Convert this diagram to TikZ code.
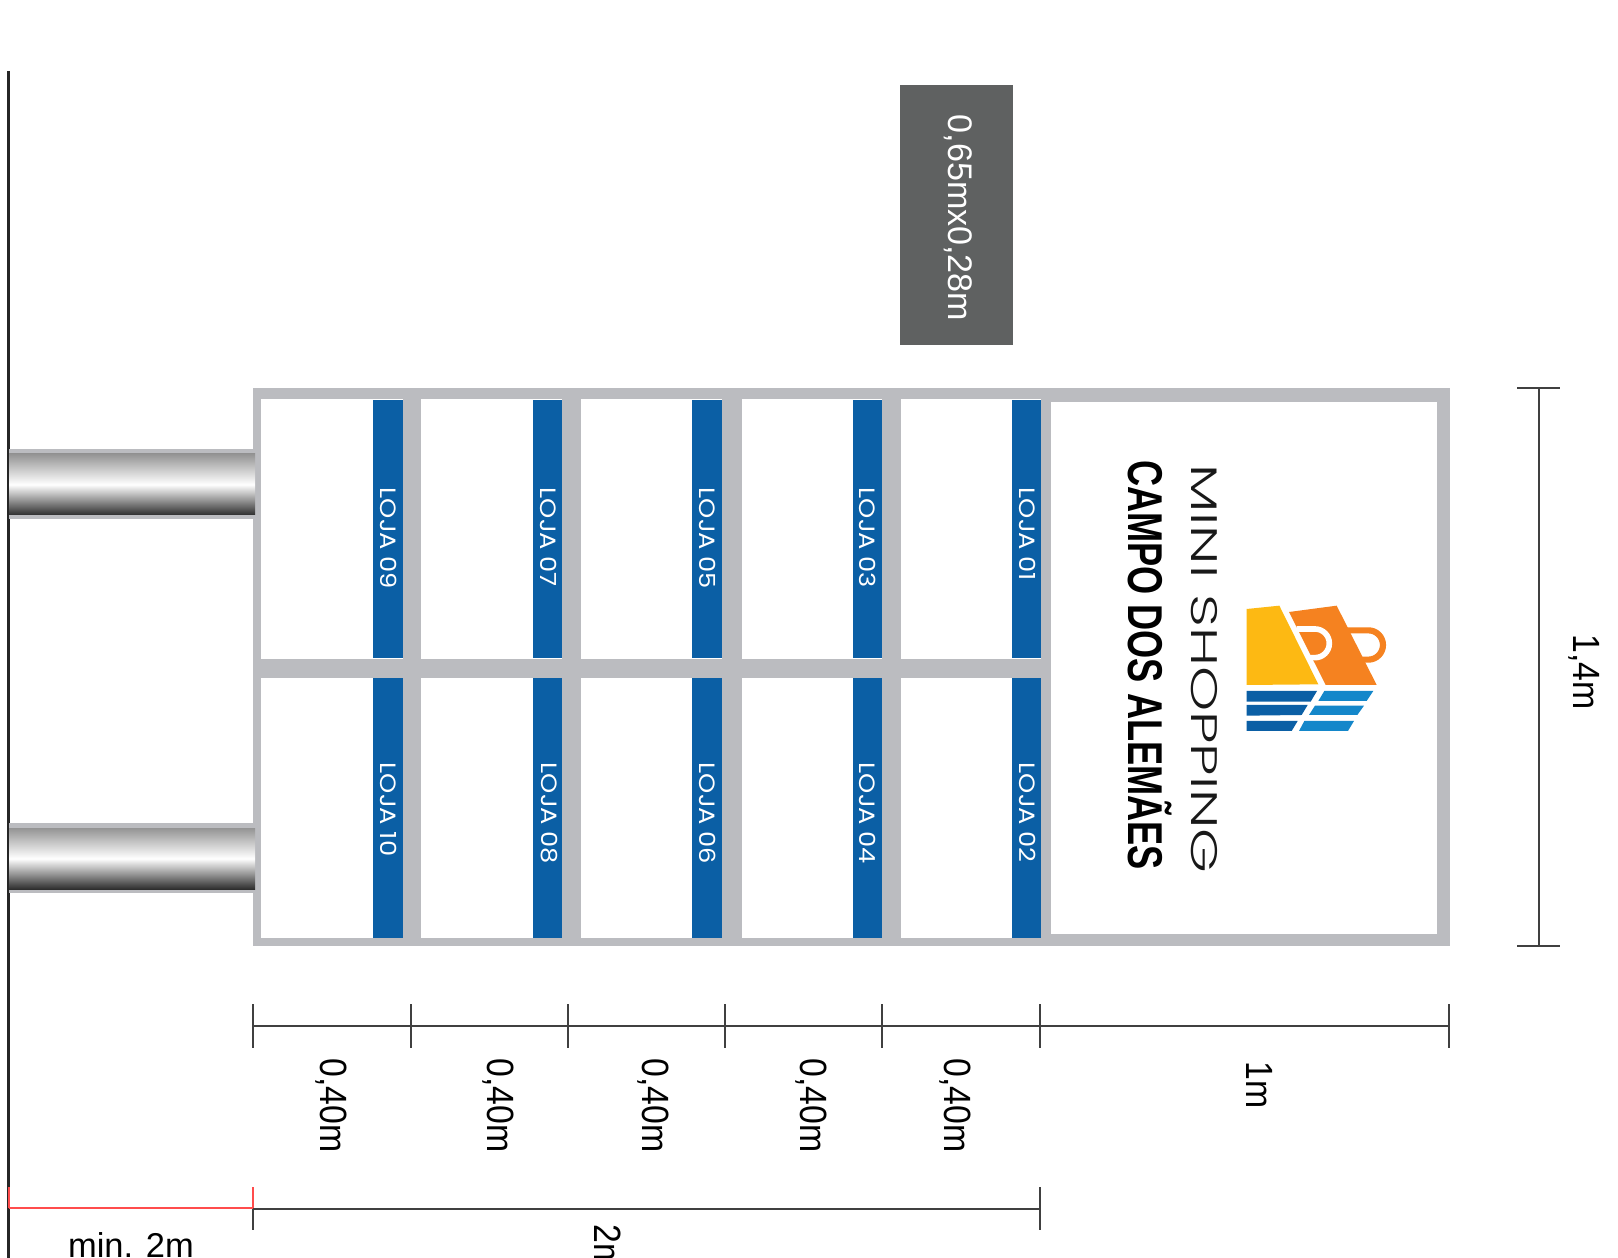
\documentclass[tikz,border=0pt]{standalone}
\usepackage{fontspec}
\usepackage{graphicx}
\setmainfont{Liberation Sans}
\newfontfamily\lojafont{Poppins}
\newfontfamily\minifont{Poppins Light}
\usetikzlibrary{calc,positioning}
\definecolor{framegray}{HTML}{BBBCC0}
\definecolor{boxgray}{HTML}{5F6161}
\definecolor{lojablue}{HTML}{0B5FA5}
\definecolor{skyblue}{HTML}{1487CA}
\definecolor{bagyellow}{HTML}{FDB913}
\definecolor{bagorange}{HTML}{F58220}
\newcommand{\dimtext}[1]{\scalebox{.89}[1]{#1}}
\newcommand{\lojatext}[1]{\scalebox{1.16}[1]{#1}}
\tikzset{
	dimline/.style={line width=0.3pt,draw=black!75},
	wallline/.style={line width=0.6pt,draw=black!85},
	redline/.style={line width=0.35pt,draw=red!70},
	lojastrip/.style={fill=lojablue},
	lojalabel/.style={rotate=-90,anchor=west,text=white,font=\lojafont\fontsize{6.3}{7}\selectfont,inner sep=0pt},
	dimlabel/.style={rotate=-90,anchor=west,font=\fontsize{10.8}{12}\selectfont,inner sep=0pt},
	poleshade/.style={top color=black!42,bottom color=black!82,middle color=white},
}
\begin{document}
\begin{tikzpicture}[x=0.01cm,y=-0.01cm]
	\clip (0,0) rectangle (1618,1258);

	% Drawing wall line
	\draw [wallline] (8.5,71) -- (8.5,1258);

	% Drawing sign frame
	\fill [framegray] (253,388) rectangle (1450,946);
	\fill [white] (1051,402) rectangle (1437,934);

	% Drawing upper cells
	\fill [white] (261,399) rectangle (403,659);
	\fill [white] (421,399) rectangle (562,659);
	\fill [white] (581,399) rectangle (722,659);
	\fill [white] (742,399) rectangle (882,659);
	\fill [white] (901,399) rectangle (1041,659);

	% Drawing lower cells
	\fill [white] (261,678) rectangle (403,938);
	\fill [white] (421,678) rectangle (562,938);
	\fill [white] (581,678) rectangle (722,938);
	\fill [white] (742,678) rectangle (882,938);
	\fill [white] (901,678) rectangle (1041,938);

	% Drawing poles
	\fill [framegray] (9,449) rectangle (261,519);
	\shade [poleshade] (9,454) rectangle (255,515);
	\fill [framegray] (9,823) rectangle (261,893);
	\shade [poleshade] (9,828) rectangle (255,889);

	% Drawing upper strips
	\fill [lojastrip] (373,400) rectangle (403,658);
	\fill [lojastrip] (533,400) rectangle (562,658);
	\fill [lojastrip] (692,400) rectangle (722,658);
	\fill [lojastrip] (853,400) rectangle (882,658);
	\fill [lojastrip] (1012,400) rectangle (1041,658);

	% Drawing lower strips
	\fill [lojastrip] (373,678) rectangle (403,938);
	\fill [lojastrip] (533,678) rectangle (562,938);
	\fill [lojastrip] (692,678) rectangle (722,938);
	\fill [lojastrip] (853,678) rectangle (882,938);
	\fill [lojastrip] (1012,678) rectangle (1041,938);

	% Marking stores
	\node [lojalabel] (loja01) at (1028,487) {\lojatext{LOJA 01}};
	\node [lojalabel] (loja02) at (1028,762) {\lojatext{LOJA 02}};
	\node [lojalabel] (loja03) at (868,487) {\lojatext{LOJA 03}};
	\node [lojalabel] (loja04) at (868,762) {\lojatext{LOJA 04}};
	\node [lojalabel] (loja05) at (708,487) {\lojatext{LOJA 05}};
	\node [lojalabel] (loja06) at (708,762) {\lojatext{LOJA 06}};
	\node [lojalabel] (loja07) at (549,487) {\lojatext{LOJA 07}};
	\node [lojalabel] (loja08) at (549,762) {\lojatext{LOJA 08}};
	\node [lojalabel] (loja09) at (389,487) {\lojatext{LOJA 09}};
	\node [lojalabel] (loja10) at (389,762) {\lojatext{LOJA 10}};

	% Drawing size box
	\fill [boxgray] (900,85) rectangle (1013,345);
	\node [rotate=-90,text=white,font=\fontsize{9.7}{11}\selectfont,inner sep=0pt] (boxsize) at (958,218) {0,65mx0,28m};

	% Marking brand names
	\node [rotate=-90,font=\minifont\fontsize{10.5}{12}\selectfont,inner sep=0pt,text=black!90] (mininame) at (1204,669) {\scalebox{1.555}[1]{MINI SHOPPING}};
	\node [rotate=-90,font=\bfseries\fontsize{13.9}{16}\selectfont,inner sep=0pt] (camponame) at (1150,665) {\scalebox{.74}[1]{CAMPO DOS ALEMÃES}};

	% Drawing logo
	\begin{scope}[shift={(1220,590)},scale=0.3333]
		\fill [bagorange] (207,66) -- (350,47) -- (470,285) -- (317,285) -- cycle;
		\draw [bagorange,line width=1.75pt] (375,121) -- (445,121) arc [start angle=-90,end angle=90,radius=44] -- (415,209);
		\draw [white,line width=1.6pt] (230,117) -- (285,117) arc [start angle=-90,end angle=90,radius=43] -- (270,203);
		\fill [bagyellow] (80,57) -- (178,47) -- (295,283) -- (80,285) -- cycle;
		\fill [lojablue] (80,303) -- (291,303) -- (272,335) -- (80,335) -- cycle;
		\fill [lojablue] (80,345) -- (263,345) -- (245,375) -- (80,377) -- cycle;
		\fill [lojablue] (80,393) -- (233,393) -- (215,423) -- (80,423) -- cycle;
		\fill [skyblue] (313,303) -- (460,303) -- (440,333) -- (295,333) -- cycle;
		\fill [skyblue] (285,347) -- (432,347) -- (412,375) -- (267,375) -- cycle;
		\fill [skyblue] (253,393) -- (402,393) -- (384,423) -- (237,423) -- cycle;
	\end{scope}

	% Drawing line for height
	\coordinate (hgttop) at (1539,388);
	\coordinate (hgtbot) at (1539,946);
	\draw [dimline] (hgttop) -- (hgtbot);
	\draw [dimline] (1517,388) -- (1560,388);
	\draw [dimline] (1517,946) -- (1560,946);
	\node [dimlabel] (hgtlabel) at (1584,634) {\dimtext{1,4m}};

	% Drawing line for widths
	\draw [dimline] (253,1026) -- (1449,1026);
	\draw [dimline] (253,1004) -- (253,1048);
	\draw [dimline] (411,1004) -- (411,1048);
	\draw [dimline] (568,1004) -- (568,1048);
	\draw [dimline] (725,1004) -- (725,1048);
	\draw [dimline] (882,1004) -- (882,1048);
	\draw [dimline] (1040,1004) -- (1040,1048);
	\draw [dimline] (1449,1004) -- (1449,1048);

	% Marking widths
	\node [dimlabel] (wida) at (331,1058) {\dimtext{0,40m}};
	\node [dimlabel] (widb) at (498,1058) {\dimtext{0,40m}};
	\node [dimlabel] (widc) at (653,1058) {\dimtext{0,40m}};
	\node [dimlabel] (widd) at (811,1058) {\dimtext{0,40m}};
	\node [dimlabel] (wide) at (955,1058) {\dimtext{0,40m}};
	\node [dimlabel] (widf) at (1260,1061) {\dimtext{1m}};

	% Drawing line for total
	\draw [dimline] (253,1209) -- (1040,1209);
	\draw [dimline] (253,1187) -- (253,1230);
	\draw [dimline] (1040,1187) -- (1040,1230);
	\node [dimlabel] (widtotal) at (608,1224) {\dimtext{2m}};

	% Drawing line for clearance
	\draw [redline] (9,1208) -- (253,1208);
	\draw [redline] (9,1187) -- (9,1208);
	\draw [redline] (253,1187) -- (253,1208);
	\node [anchor=base,font=\fontsize{9.8}{12}\selectfont,inner sep=0pt] (minlabel) at (131,1257) {min. 2m};
\end{tikzpicture}
\end{document}
